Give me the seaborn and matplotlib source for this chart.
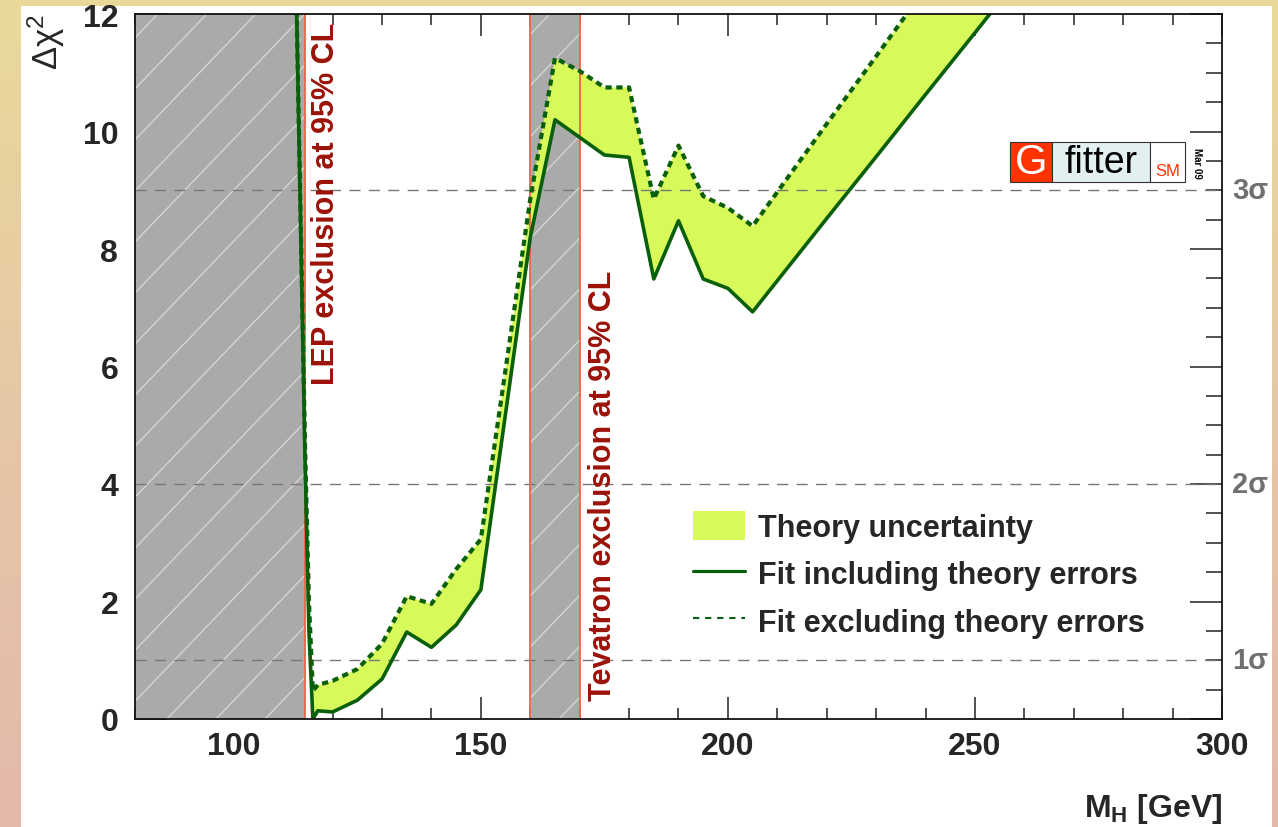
import numpy as np
import pandas as pd
import matplotlib
matplotlib.use("Agg")
import matplotlib.pyplot as plt
import seaborn as sns
from matplotlib.patches import Rectangle, Patch
from matplotlib.lines import Line2D
from matplotlib.ticker import MultipleLocator
from matplotlib.colors import LinearSegmentedColormap

# ---------------- data ----------------
mh = [112.5, 113.5, 114.4, 115.2, 116, 117, 120, 125, 130, 135, 140, 145, 150, 155,
      160, 165, 170, 175, 180, 185, 190, 195, 200, 205, 210, 220, 230, 240, 250, 260]
chi2_incl = [13.0, 8.5, 4.5, 1.5, 0.0, 0.14, 0.12, 0.32, 0.68, 1.48, 1.22, 1.6, 2.2, 5.2,
             8.2, 10.2, 9.9, 9.6, 9.56, 7.49, 8.48, 7.49, 7.33, 6.93, 7.46, 8.52, 9.57,
             10.63, 11.68, 12.74]
chi2_excl = [13.0, 8.6, 4.7, 2.0, 0.48, 0.58, 0.65, 0.85, 1.28, 2.09, 1.96, 2.55, 3.06, 5.95,
             8.85, 11.25, 11.03, 10.75, 10.75, 8.85, 9.76, 8.9, 8.7, 8.39, 8.97, 10.13, 11.28,
             12.44, 13.6, 14.8]
lep_excl = (80.0, 114.4)
tev_excl = (160.0, 170.0)
sigma_levels = [1, 4, 9]
sigma_labels = ["1σ", "2σ", "3σ"]
legend_labels = ["Theory uncertainty", "Fit including theory errors", "Fit excluding theory errors"]

df = pd.DataFrame({"mh": mh, "incl": chi2_incl, "excl": chi2_excl})

# ---------------- style ----------------
sns.set_style("ticks")
plt.rcParams["font.family"] = ["Liberation Sans", "DejaVu Sans"]
plt.rcParams["mathtext.fontset"] = "custom"
plt.rcParams["mathtext.rm"] = "Liberation Sans"
plt.rcParams["mathtext.it"] = "Liberation Sans:italic"
plt.rcParams["mathtext.bf"] = "Liberation Sans:bold"

green = "#0a5f0a"
fill_color = "#d8f95a"
red_line = "#f5604a"
dark_red = "#9b1208"
band_gray = "#aaaaaa"

W_PX, H_PX = 1278, 828
fig = plt.figure(figsize=(W_PX / 100, H_PX / 100), dpi=100)

# background gradient frame
bg = fig.add_axes([0, 0, 1, 1], zorder=-10)
grad = np.linspace(0, 1, 256)[:, None]
cmap = LinearSegmentedColormap.from_list("bg", ["#e9da9b", "#e6c7a6", "#e4b8ab"])
bg.imshow(grad, aspect="auto", cmap=cmap, extent=[0, 1, 0, 1], origin="upper")
bg.add_patch(Rectangle((21 / W_PX, 0), (1272 - 21) / W_PX, 1 - 7 / H_PX,
                       facecolor="white", edgecolor="none"))
bg.set_xlim(0, 1)
bg.set_ylim(0, 1)
bg.set_axis_off()

AX_L, AX_R, AX_T, AX_B = 135, 1222, 15, 720
ax = fig.add_axes([AX_L / W_PX, 1 - AX_B / H_PX, (AX_R - AX_L) / W_PX, (AX_B - AX_T) / H_PX])
ax.set_facecolor("white")
ax.set_xlim(80, 300)
ax.set_ylim(0, 12)

AW, AH = AX_R - AX_L, AX_B - AX_T


def excluded_band(x0, x1):
    rect = Rectangle((x0, 0), x1 - x0, 12, facecolor=band_gray, edgecolor="none", zorder=1)
    ax.add_patch(rect)
    for off in np.arange(32 - 49 * 15, AW + 49, 49):
        ln = Line2D([off / AW, (off + AH * 0.96) / AW], [0, 1], transform=ax.transAxes,
                    color="#d4d4d4", lw=1.0, zorder=1.5)
        ax.add_line(ln)
        ln.set_clip_path(rect)


excluded_band(*lep_excl)
excluded_band(*tev_excl)

# theory band
ax.fill_between(df["mh"], df["incl"], df["excl"], color=fill_color, lw=0, zorder=2)

# sigma reference lines
for lvl in sigma_levels:
    ax.axhline(lvl, color="#777777", lw=1.0, linestyle=(0, (8, 6)), zorder=3)

# exclusion boundaries
ax.axvline(lep_excl[1], color=red_line, lw=1.3, zorder=3.5)
for xv in tev_excl:
    ax.axvline(xv, color=red_line, lw=1.3, zorder=3.5)

# fit curves
sns.lineplot(data=df, x="mh", y="incl", ax=ax, color=green, lw=2.6, zorder=5,
             estimator=None, sort=False)
sns.lineplot(data=df, x="mh", y="excl", ax=ax, color=green, lw=3.0, zorder=5,
             estimator=None, sort=False, linestyle=(0, (1.5, 1.1)))

ax.set_xlim(80, 300)
ax.set_ylim(0, 12)

# ---------------- axes decoration ----------------
ax.xaxis.set_major_locator(MultipleLocator(50))
ax.xaxis.set_minor_locator(MultipleLocator(10))
ax.yaxis.set_major_locator(MultipleLocator(2))
ax.yaxis.set_minor_locator(MultipleLocator(0.5))
ax.tick_params(axis="x", which="major", direction="in", length=16, width=1.1,
               top=True, bottom=True, labelsize=23, pad=9, color="#222222")
ax.tick_params(axis="x", which="minor", direction="in", length=8, width=1.1,
               top=True, bottom=True, color="#222222")
ax.tick_params(axis="y", which="major", direction="in", length=23, width=1.1,
               left=True, right=True, labelsize=23, pad=12, color="#222222")
ax.tick_params(axis="y", which="minor", direction="in", length=11.5, width=1.1,
               left=True, right=True, color="#222222")
for lab in ax.get_xticklabels() + ax.get_yticklabels():
    lab.set_fontweight("bold")
for sp in ax.spines.values():
    sp.set_linewidth(1.3)
    sp.set_color("#111111")
    sp.set_zorder(10)
ax.set_xlabel("")
ax.set_ylabel("")

# sigma labels
ytrans = ax.get_yaxis_transform()
for lvl, lab in zip(sigma_levels, sigma_labels):
    ax.text(1.0092, lvl, lab, transform=ytrans, ha="left", va="center",
            fontsize=21, fontweight="bold", color="#707070", clip_on=False)

# exclusion texts
ax.text(115.6, 5.7, "LEP exclusion at 95% CL", rotation=90, color=dark_red,
        fontsize=22, fontweight="bold", ha="left", va="bottom", zorder=6)
ax.text(171.6, 0.32, "Tevatron exclusion at 95% CL", rotation=90, color=dark_red,
        fontsize=22, fontweight="bold", ha="left", va="bottom", zorder=6)

# axis titles
fig.text(46 / W_PX, 1 - 14 / H_PX, r"$\mathregular{\Delta\chi^{2}}$", rotation=90,
         ha="center", va="top", fontsize=25)
fig.text(1222 / W_PX, 1 - 826 / H_PX, r"$\mathbf{M_{H}}$ [GeV]", ha="right", va="bottom",
         fontsize=23, fontweight="bold")

# legend
handles = [Patch(facecolor=fill_color, edgecolor="none"),
           Line2D([], [], color=green, lw=2.3),
           Line2D([], [], color=green, lw=1.5, linestyle=(0, (3, 2.8)))]
ax.legend(handles, legend_labels, loc="upper left", bbox_to_anchor=(0.513, 0.295),
          frameon=False, prop={"family": "Liberation Sans", "weight": "bold", "size": 22},
          handlelength=1.7, handleheight=1.1, handletextpad=0.43, labelspacing=0.5,
          borderaxespad=0, borderpad=0)

# Gfitter logo
def afx(px):
    return (px - AX_L) / AW


def afy(py):
    return (AX_B - py) / AH


y0, y1 = afy(183), afy(143)
boxes = [(1010, 1052, "#ff3300"), (1052, 1150, "#e2f0f0"), (1150, 1185, "white")]
for bx0, bx1, col in boxes:
    ax.add_patch(Rectangle((afx(bx0), y0), afx(bx1) - afx(bx0), y1 - y0, transform=ax.transAxes,
                           facecolor=col, edgecolor="#333333", lw=0.8, zorder=8, clip_on=False))
ax.text(afx(1031), (y0 + y1) / 2, "G", transform=ax.transAxes, ha="center", va="center",
        color="white", fontsize=30, zorder=9)
ax.text(afx(1101), (y0 + y1) / 2, "fitter", transform=ax.transAxes, ha="center", va="center",
        color="black", fontsize=27, zorder=9)
ax.text(afx(1168), afy(172), "SM", transform=ax.transAxes, ha="center", va="center",
        color="#ff3300", fontsize=12, zorder=9)
ax.text(afx(1197), afy(163), "Mar 09", transform=ax.transAxes, ha="center", va="center",
        rotation=-90, color="black", fontsize=7, fontweight="bold", zorder=9)

fig.savefig("out.png", dpi=100)
